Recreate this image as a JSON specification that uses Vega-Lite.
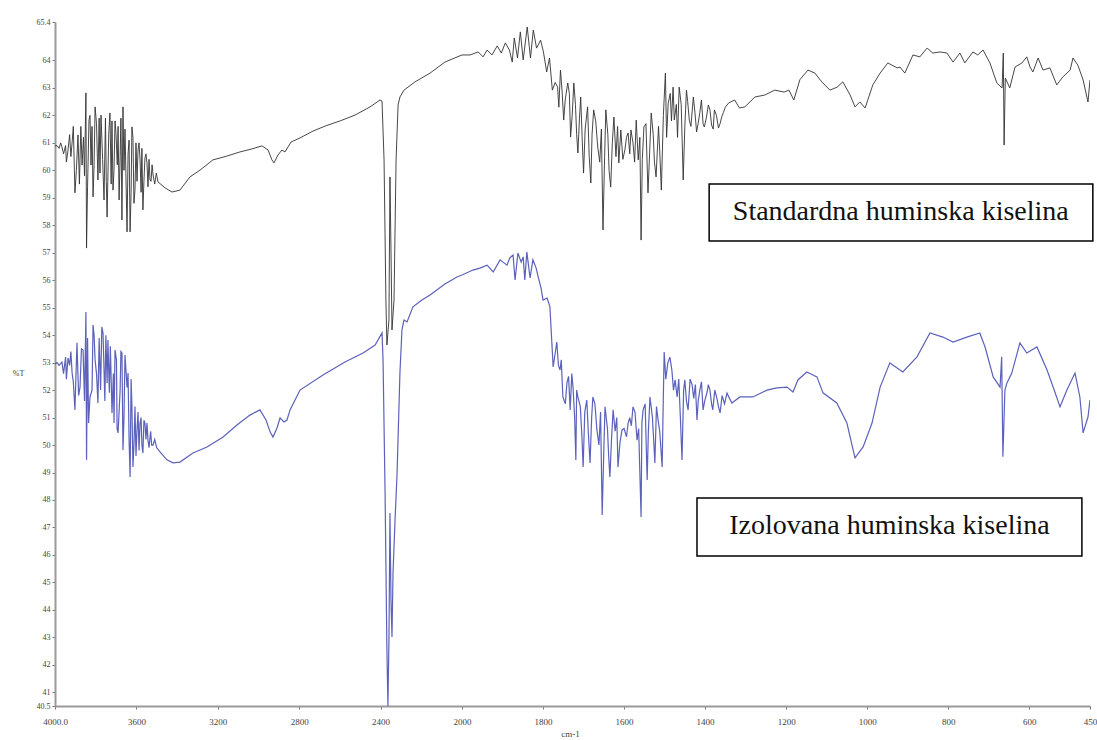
{
  "$schema": "https://vega.github.io/schema/vega-lite/v6.json",
  "width": 1035,
  "height": 684,
  "autosize": "none",
  "padding": {"left": 55, "top": 22, "right": 7, "bottom": 34},
  "background": "white",
  "config": {
    "view": {"stroke": null},
    "axisX": {
      "titleFont": "Liberation Serif, serif",
      "titleFontSize": 9,
      "titleFontWeight": "normal",
      "titleColor": "#444",
      "titleX": 515,
      "titleY": 23,
      "titleBaseline": "top",
      "labelFont": "Liberation Serif, serif",
      "labelFontSize": 9,
      "labelColor": "#444",
      "labelPadding": 8,
      "labelOverlap": false,
      "labelFlush": false,
      "grid": false,
      "domainColor": "#9a9a9a",
      "domainWidth": 2,
      "tickColor": "#777",
      "tickSize": 3,
      "tickWidth": 1
    },
    "axisY": {
      "titleFont": "Liberation Serif, serif",
      "titleFontSize": 8,
      "titleFontWeight": "normal",
      "titleColor": "#444",
      "titleAngle": 0,
      "titleX": -37,
      "titleY": 351,
      "titleAlign": "center",
      "titleBaseline": "middle",
      "labelFont": "Liberation Serif, serif",
      "labelFontSize": 8,
      "labelColor": "#444",
      "labelPadding": 2,
      "labelOverlap": false,
      "labelFlush": false,
      "grid": false,
      "domainColor": "#9a9a9a",
      "domainWidth": 2,
      "tickColor": "#777",
      "tickSize": 3,
      "tickWidth": 1
    }
  },
  "datasets": {
    "standardna": [
      {"wn": 4000, "t": 60.89}, {"wn": 3990, "t": 60.9}, {"wn": 3980, "t": 60.8}, {"wn": 3972, "t": 61.0},
      {"wn": 3966, "t": 60.85}, {"wn": 3958, "t": 60.6}, {"wn": 3948, "t": 60.9}, {"wn": 3944, "t": 60.3},
      {"wn": 3936, "t": 60.74}, {"wn": 3928, "t": 61.3}, {"wn": 3922, "t": 60.5}, {"wn": 3916, "t": 61.0},
      {"wn": 3910, "t": 61.6}, {"wn": 3902, "t": 59.18}, {"wn": 3895, "t": 60.0}, {"wn": 3887, "t": 61.29},
      {"wn": 3880, "t": 59.5}, {"wn": 3873, "t": 61.6}, {"wn": 3867, "t": 60.19}, {"wn": 3860, "t": 61.2},
      {"wn": 3855, "t": 59.8}, {"wn": 3848, "t": 62.82}, {"wn": 3845, "t": 57.17}, {"wn": 3840, "t": 59.4},
      {"wn": 3833, "t": 61.83}, {"wn": 3828, "t": 62.0}, {"wn": 3823, "t": 60.19}, {"wn": 3818, "t": 61.6},
      {"wn": 3813, "t": 59.03}, {"wn": 3808, "t": 60.2}, {"wn": 3803, "t": 62.31}, {"wn": 3796, "t": 61.7},
      {"wn": 3789, "t": 59.65}, {"wn": 3783, "t": 61.9}, {"wn": 3779, "t": 59.9}, {"wn": 3774, "t": 62.01},
      {"wn": 3766, "t": 60.4}, {"wn": 3759, "t": 58.92}, {"wn": 3752, "t": 61.9}, {"wn": 3748, "t": 59.6},
      {"wn": 3744, "t": 58.30}, {"wn": 3736, "t": 61.3}, {"wn": 3730, "t": 62.09}, {"wn": 3724, "t": 59.5},
      {"wn": 3720, "t": 61.8}, {"wn": 3715, "t": 59.28}, {"wn": 3710, "t": 60.0}, {"wn": 3705, "t": 61.8},
      {"wn": 3700, "t": 61.29}, {"wn": 3694, "t": 60.2}, {"wn": 3690, "t": 61.6}, {"wn": 3685, "t": 58.92},
      {"wn": 3680, "t": 60.5}, {"wn": 3676, "t": 61.9}, {"wn": 3671, "t": 58.19}, {"wn": 3666, "t": 62.31},
      {"wn": 3661, "t": 60.0}, {"wn": 3656, "t": 61.5}, {"wn": 3651, "t": 59.65}, {"wn": 3646, "t": 57.76},
      {"wn": 3641, "t": 60.6}, {"wn": 3636, "t": 61.10}, {"wn": 3631, "t": 57.76}, {"wn": 3626, "t": 59.2},
      {"wn": 3622, "t": 61.58}, {"wn": 3617, "t": 61.2}, {"wn": 3612, "t": 58.8}, {"wn": 3607, "t": 59.28},
      {"wn": 3602, "t": 61.0}, {"wn": 3597, "t": 59.6}, {"wn": 3592, "t": 60.74}, {"wn": 3587, "t": 61.0},
      {"wn": 3582, "t": 60.38}, {"wn": 3577, "t": 59.2}, {"wn": 3573, "t": 60.8}, {"wn": 3568, "t": 58.56},
      {"wn": 3563, "t": 59.6}, {"wn": 3558, "t": 60.45}, {"wn": 3553, "t": 60.6}, {"wn": 3548, "t": 60.27},
      {"wn": 3543, "t": 59.4}, {"wn": 3538, "t": 60.4}, {"wn": 3533, "t": 59.65}, {"wn": 3528, "t": 59.6},
      {"wn": 3523, "t": 60.2}, {"wn": 3518, "t": 59.83}, {"wn": 3510, "t": 59.5}, {"wn": 3502, "t": 59.9},
      {"wn": 3494, "t": 59.58}, {"wn": 3459, "t": 59.36}, {"wn": 3425, "t": 59.21}, {"wn": 3386, "t": 59.28},
      {"wn": 3337, "t": 59.76}, {"wn": 3287, "t": 60.01}, {"wn": 3224, "t": 60.38}, {"wn": 3155, "t": 60.52},
      {"wn": 3091, "t": 60.67}, {"wn": 3032, "t": 60.78}, {"wn": 2983, "t": 60.89}, {"wn": 2953, "t": 60.74},
      {"wn": 2934, "t": 60.38}, {"wn": 2924, "t": 60.27}, {"wn": 2904, "t": 60.56}, {"wn": 2885, "t": 60.74},
      {"wn": 2870, "t": 60.67}, {"wn": 2855, "t": 60.85}, {"wn": 2840, "t": 61.03}, {"wn": 2796, "t": 61.18},
      {"wn": 2732, "t": 61.43}, {"wn": 2673, "t": 61.61}, {"wn": 2599, "t": 61.80}, {"wn": 2526, "t": 62.01},
      {"wn": 2452, "t": 62.31}, {"wn": 2403, "t": 62.56}, {"wn": 2393, "t": 62.52}, {"wn": 2383, "t": 60.38},
      {"wn": 2374, "t": 55.28}, {"wn": 2369, "t": 53.64}, {"wn": 2359, "t": 54.55}, {"wn": 2354, "t": 59.76},
      {"wn": 2349, "t": 57.10}, {"wn": 2344, "t": 54.19}, {"wn": 2334, "t": 55.28}, {"wn": 2324, "t": 60.38},
      {"wn": 2314, "t": 62.38}, {"wn": 2305, "t": 62.67}, {"wn": 2285, "t": 62.92}, {"wn": 2231, "t": 63.22},
      {"wn": 2157, "t": 63.54}, {"wn": 2084, "t": 63.94}, {"wn": 2000, "t": 64.20}, {"wn": 1980, "t": 64.20},
      {"wn": 1960, "t": 64.31}, {"wn": 1948, "t": 64.13}, {"wn": 1938, "t": 64.38}, {"wn": 1926, "t": 64.20},
      {"wn": 1913, "t": 64.53}, {"wn": 1903, "t": 64.27}, {"wn": 1893, "t": 64.64}, {"wn": 1883, "t": 64.38},
      {"wn": 1876, "t": 63.94}, {"wn": 1871, "t": 64.82}, {"wn": 1863, "t": 64.09}, {"wn": 1856, "t": 65.04},
      {"wn": 1849, "t": 64.02}, {"wn": 1839, "t": 65.22}, {"wn": 1831, "t": 64.09}, {"wn": 1824, "t": 65.11},
      {"wn": 1816, "t": 64.45}, {"wn": 1806, "t": 64.74}, {"wn": 1799, "t": 64.31}, {"wn": 1791, "t": 63.58},
      {"wn": 1784, "t": 64.09}, {"wn": 1777, "t": 62.92}, {"wn": 1770, "t": 63.2}, {"wn": 1764, "t": 63.03},
      {"wn": 1761, "t": 62.3}, {"wn": 1757, "t": 63.65}, {"wn": 1753, "t": 62.9}, {"wn": 1749, "t": 61.83},
      {"wn": 1745, "t": 62.6}, {"wn": 1739, "t": 63.18}, {"wn": 1735, "t": 62.8}, {"wn": 1732, "t": 61.21},
      {"wn": 1728, "t": 62.0}, {"wn": 1724, "t": 63.18}, {"wn": 1720, "t": 62.4}, {"wn": 1717, "t": 61.3},
      {"wn": 1714, "t": 60.63}, {"wn": 1710, "t": 61.9}, {"wn": 1707, "t": 62.67}, {"wn": 1703, "t": 61.0},
      {"wn": 1700, "t": 59.90}, {"wn": 1696, "t": 61.5}, {"wn": 1690, "t": 62.31}, {"wn": 1686, "t": 60.5},
      {"wn": 1682, "t": 59.54}, {"wn": 1679, "t": 61.3}, {"wn": 1675, "t": 62.20}, {"wn": 1670, "t": 61.8},
      {"wn": 1665, "t": 60.85}, {"wn": 1660, "t": 60.3}, {"wn": 1656, "t": 61.5}, {"wn": 1652, "t": 57.83},
      {"wn": 1648, "t": 60.5}, {"wn": 1645, "t": 62.20}, {"wn": 1640, "t": 61.3}, {"wn": 1637, "t": 60.0},
      {"wn": 1633, "t": 59.39}, {"wn": 1629, "t": 61.0}, {"wn": 1625, "t": 61.94}, {"wn": 1620, "t": 60.5},
      {"wn": 1616, "t": 61.6}, {"wn": 1613, "t": 60.27}, {"wn": 1608, "t": 61.47}, {"wn": 1603, "t": 60.4},
      {"wn": 1598, "t": 60.74}, {"wn": 1594, "t": 61.2}, {"wn": 1590, "t": 61.36}, {"wn": 1586, "t": 60.6},
      {"wn": 1583, "t": 61.47}, {"wn": 1578, "t": 61.0}, {"wn": 1574, "t": 60.3}, {"wn": 1570, "t": 61.83},
      {"wn": 1565, "t": 60.38}, {"wn": 1561, "t": 61.2}, {"wn": 1558, "t": 57.46}, {"wn": 1555, "t": 60.4},
      {"wn": 1551, "t": 61.58}, {"wn": 1546, "t": 61.7}, {"wn": 1541, "t": 59.18}, {"wn": 1537, "t": 60.6},
      {"wn": 1533, "t": 62.09}, {"wn": 1528, "t": 61.3}, {"wn": 1525, "t": 60.3}, {"wn": 1521, "t": 59.76},
      {"wn": 1515, "t": 61.6}, {"wn": 1512, "t": 60.7}, {"wn": 1508, "t": 59.28}, {"wn": 1503, "t": 62.0},
      {"wn": 1498, "t": 63.54}, {"wn": 1495, "t": 61.2}, {"wn": 1491, "t": 62.45}, {"wn": 1486, "t": 62.8},
      {"wn": 1483, "t": 61.8}, {"wn": 1479, "t": 63.03}, {"wn": 1476, "t": 61.83}, {"wn": 1471, "t": 62.4},
      {"wn": 1468, "t": 61.2}, {"wn": 1464, "t": 63.03}, {"wn": 1459, "t": 62.4}, {"wn": 1454, "t": 59.65},
      {"wn": 1450, "t": 61.6}, {"wn": 1446, "t": 62.92}, {"wn": 1443, "t": 62.5}, {"wn": 1439, "t": 61.83},
      {"wn": 1435, "t": 61.6}, {"wn": 1429, "t": 62.67}, {"wn": 1425, "t": 62.1}, {"wn": 1421, "t": 61.4},
      {"wn": 1417, "t": 61.72}, {"wn": 1413, "t": 62.1}, {"wn": 1409, "t": 62.56}, {"wn": 1405, "t": 61.7},
      {"wn": 1402, "t": 61.58}, {"wn": 1397, "t": 61.9}, {"wn": 1392, "t": 62.38}, {"wn": 1388, "t": 62.2},
      {"wn": 1384, "t": 61.65}, {"wn": 1380, "t": 61.5}, {"wn": 1377, "t": 62.20}, {"wn": 1372, "t": 62.0},
      {"wn": 1367, "t": 61.54}, {"wn": 1363, "t": 61.7}, {"wn": 1359, "t": 61.94}, {"wn": 1355, "t": 62.1},
      {"wn": 1350, "t": 62.3}, {"wn": 1342, "t": 62.45}, {"wn": 1327, "t": 62.56}, {"wn": 1315, "t": 62.27},
      {"wn": 1302, "t": 62.31}, {"wn": 1277, "t": 62.67}, {"wn": 1253, "t": 62.74}, {"wn": 1228, "t": 62.92},
      {"wn": 1205, "t": 62.85}, {"wn": 1193, "t": 62.92}, {"wn": 1181, "t": 62.56}, {"wn": 1166, "t": 63.3},
      {"wn": 1146, "t": 63.65}, {"wn": 1129, "t": 63.54}, {"wn": 1112, "t": 63.22}, {"wn": 1092, "t": 62.92},
      {"wn": 1074, "t": 63.03}, {"wn": 1060, "t": 63.22}, {"wn": 1042, "t": 62.74}, {"wn": 1030, "t": 62.31},
      {"wn": 1018, "t": 62.49}, {"wn": 1005, "t": 62.27}, {"wn": 986, "t": 63.11}, {"wn": 968, "t": 63.54},
      {"wn": 949, "t": 63.91}, {"wn": 926, "t": 63.73}, {"wn": 919, "t": 63.76}, {"wn": 907, "t": 63.54},
      {"wn": 887, "t": 64.20}, {"wn": 870, "t": 64.13}, {"wn": 852, "t": 64.45}, {"wn": 838, "t": 64.27},
      {"wn": 820, "t": 64.31}, {"wn": 803, "t": 64.27}, {"wn": 788, "t": 63.94}, {"wn": 771, "t": 64.27},
      {"wn": 759, "t": 63.91}, {"wn": 739, "t": 64.31}, {"wn": 727, "t": 64.20}, {"wn": 714, "t": 64.38},
      {"wn": 697, "t": 63.91}, {"wn": 680, "t": 63.18}, {"wn": 667, "t": 63.0}, {"wn": 664, "t": 64.27},
      {"wn": 662, "t": 60.92}, {"wn": 659, "t": 63.36}, {"wn": 648, "t": 63.0}, {"wn": 635, "t": 63.76},
      {"wn": 618, "t": 63.91}, {"wn": 606, "t": 64.13}, {"wn": 598, "t": 63.76}, {"wn": 591, "t": 63.58},
      {"wn": 578, "t": 64.09}, {"wn": 566, "t": 63.65}, {"wn": 549, "t": 63.73}, {"wn": 532, "t": 63.11},
      {"wn": 517, "t": 63.40}, {"wn": 499, "t": 63.65}, {"wn": 492, "t": 64.09}, {"wn": 480, "t": 63.83},
      {"wn": 467, "t": 63.29}, {"wn": 455, "t": 62.49}, {"wn": 450, "t": 63.29}
    ],
    "izolovana": [
      {"wn": 4000, "t": 52.95}, {"wn": 3990, "t": 53.0}, {"wn": 3980, "t": 52.9}, {"wn": 3966, "t": 53.02},
      {"wn": 3958, "t": 52.6}, {"wn": 3948, "t": 53.2}, {"wn": 3944, "t": 52.4}, {"wn": 3936, "t": 53.17},
      {"wn": 3928, "t": 52.9}, {"wn": 3922, "t": 53.4}, {"wn": 3916, "t": 52.62}, {"wn": 3910, "t": 52.3},
      {"wn": 3902, "t": 51.28}, {"wn": 3895, "t": 53.0}, {"wn": 3892, "t": 53.72}, {"wn": 3884, "t": 51.8},
      {"wn": 3877, "t": 52.11}, {"wn": 3870, "t": 53.5}, {"wn": 3862, "t": 53.46}, {"wn": 3855, "t": 51.6},
      {"wn": 3848, "t": 54.84}, {"wn": 3845, "t": 49.46}, {"wn": 3840, "t": 53.9}, {"wn": 3835, "t": 50.8},
      {"wn": 3828, "t": 51.75}, {"wn": 3818, "t": 52.0}, {"wn": 3813, "t": 54.37}, {"wn": 3808, "t": 54.0},
      {"wn": 3803, "t": 53.10}, {"wn": 3796, "t": 52.6}, {"wn": 3789, "t": 51.53}, {"wn": 3783, "t": 53.9},
      {"wn": 3776, "t": 52.0}, {"wn": 3770, "t": 54.3}, {"wn": 3764, "t": 54.08}, {"wn": 3755, "t": 51.6},
      {"wn": 3750, "t": 54.0}, {"wn": 3744, "t": 52.26}, {"wn": 3740, "t": 53.82}, {"wn": 3733, "t": 51.9},
      {"wn": 3728, "t": 53.6}, {"wn": 3720, "t": 51.17}, {"wn": 3713, "t": 52.6}, {"wn": 3710, "t": 50.8},
      {"wn": 3705, "t": 53.46}, {"wn": 3698, "t": 53.1}, {"wn": 3695, "t": 50.6}, {"wn": 3690, "t": 50.44},
      {"wn": 3680, "t": 52.0}, {"wn": 3676, "t": 53.4}, {"wn": 3671, "t": 53.35}, {"wn": 3666, "t": 49.82},
      {"wn": 3661, "t": 51.0}, {"wn": 3656, "t": 53.28}, {"wn": 3646, "t": 52.1}, {"wn": 3641, "t": 52.62},
      {"wn": 3636, "t": 50.2}, {"wn": 3631, "t": 48.84}, {"wn": 3626, "t": 52.4}, {"wn": 3622, "t": 51.39},
      {"wn": 3617, "t": 49.20}, {"wn": 3612, "t": 50.0}, {"wn": 3607, "t": 51.4}, {"wn": 3602, "t": 49.6},
      {"wn": 3597, "t": 50.55}, {"wn": 3592, "t": 51.2}, {"wn": 3587, "t": 49.8}, {"wn": 3582, "t": 50.80},
      {"wn": 3577, "t": 51.0}, {"wn": 3573, "t": 50.0}, {"wn": 3568, "t": 49.71}, {"wn": 3563, "t": 50.9},
      {"wn": 3558, "t": 50.80}, {"wn": 3553, "t": 50.2}, {"wn": 3548, "t": 50.8}, {"wn": 3543, "t": 50.18},
      {"wn": 3538, "t": 49.9}, {"wn": 3530, "t": 50.5}, {"wn": 3525, "t": 50.0}, {"wn": 3518, "t": 50.00},
      {"wn": 3510, "t": 50.2}, {"wn": 3500, "t": 49.9}, {"wn": 3484, "t": 49.75}, {"wn": 3450, "t": 49.46},
      {"wn": 3420, "t": 49.35}, {"wn": 3386, "t": 49.38}, {"wn": 3322, "t": 49.71}, {"wn": 3253, "t": 49.93},
      {"wn": 3174, "t": 50.29}, {"wn": 3106, "t": 50.73}, {"wn": 3042, "t": 51.09}, {"wn": 2993, "t": 51.28},
      {"wn": 2963, "t": 50.91}, {"wn": 2943, "t": 50.48}, {"wn": 2929, "t": 50.29}, {"wn": 2909, "t": 50.62},
      {"wn": 2894, "t": 50.99}, {"wn": 2875, "t": 50.84}, {"wn": 2860, "t": 50.91}, {"wn": 2845, "t": 51.28},
      {"wn": 2796, "t": 52.00}, {"wn": 2683, "t": 52.55}, {"wn": 2575, "t": 53.02}, {"wn": 2486, "t": 53.35},
      {"wn": 2427, "t": 53.64}, {"wn": 2393, "t": 54.08}, {"wn": 2388, "t": 53.10}, {"wn": 2378, "t": 48.26},
      {"wn": 2369, "t": 42.54}, {"wn": 2364, "t": 40.5}, {"wn": 2359, "t": 42.90}, {"wn": 2354, "t": 47.53},
      {"wn": 2349, "t": 44.36}, {"wn": 2344, "t": 43.01}, {"wn": 2339, "t": 45.34}, {"wn": 2329, "t": 47.27},
      {"wn": 2319, "t": 48.98}, {"wn": 2305, "t": 52.62}, {"wn": 2295, "t": 54.19}, {"wn": 2285, "t": 54.55},
      {"wn": 2270, "t": 54.48}, {"wn": 2241, "t": 55.03}, {"wn": 2197, "t": 55.28}, {"wn": 2157, "t": 55.46},
      {"wn": 2084, "t": 55.86}, {"wn": 2025, "t": 56.12}, {"wn": 2000, "t": 56.19}, {"wn": 1973, "t": 56.37},
      {"wn": 1956, "t": 56.44}, {"wn": 1938, "t": 56.55}, {"wn": 1923, "t": 56.30}, {"wn": 1906, "t": 56.74},
      {"wn": 1889, "t": 56.55}, {"wn": 1882, "t": 56.81}, {"wn": 1874, "t": 56.92}, {"wn": 1869, "t": 56.01},
      {"wn": 1862, "t": 56.99}, {"wn": 1854, "t": 56.66}, {"wn": 1849, "t": 56.85}, {"wn": 1845, "t": 56.01},
      {"wn": 1840, "t": 57.03}, {"wn": 1832, "t": 56.08}, {"wn": 1825, "t": 56.74}, {"wn": 1817, "t": 56.44},
      {"wn": 1812, "t": 56.12}, {"wn": 1805, "t": 55.72}, {"wn": 1800, "t": 55.28}, {"wn": 1790, "t": 55.35},
      {"wn": 1783, "t": 55.03}, {"wn": 1775, "t": 52.84}, {"wn": 1766, "t": 53.75}, {"wn": 1762, "t": 52.9},
      {"wn": 1758, "t": 52.73}, {"wn": 1755, "t": 53.1}, {"wn": 1751, "t": 51.75}, {"wn": 1745, "t": 51.5},
      {"wn": 1741, "t": 52.26}, {"wn": 1737, "t": 52.5}, {"wn": 1733, "t": 51.28}, {"wn": 1729, "t": 52.6},
      {"wn": 1726, "t": 52.11}, {"wn": 1722, "t": 51.0}, {"wn": 1719, "t": 49.46}, {"wn": 1717, "t": 52.0},
      {"wn": 1714, "t": 51.75}, {"wn": 1708, "t": 51.4}, {"wn": 1704, "t": 50.3}, {"wn": 1701, "t": 49.20},
      {"wn": 1697, "t": 51.2}, {"wn": 1692, "t": 51.64}, {"wn": 1688, "t": 50.4}, {"wn": 1684, "t": 49.35},
      {"wn": 1680, "t": 51.0}, {"wn": 1677, "t": 51.75}, {"wn": 1672, "t": 51.5}, {"wn": 1667, "t": 50.55},
      {"wn": 1662, "t": 50.0}, {"wn": 1658, "t": 51.2}, {"wn": 1654, "t": 47.45}, {"wn": 1650, "t": 49.8},
      {"wn": 1647, "t": 51.39}, {"wn": 1641, "t": 50.6}, {"wn": 1638, "t": 49.6}, {"wn": 1635, "t": 48.84},
      {"wn": 1631, "t": 50.2}, {"wn": 1627, "t": 51.28}, {"wn": 1622, "t": 50.5}, {"wn": 1618, "t": 51.0},
      {"wn": 1615, "t": 49.20}, {"wn": 1610, "t": 50.1}, {"wn": 1605, "t": 50.55}, {"wn": 1600, "t": 50.6},
      {"wn": 1594, "t": 50.3}, {"wn": 1590, "t": 50.80}, {"wn": 1586, "t": 51.0}, {"wn": 1582, "t": 50.7},
      {"wn": 1578, "t": 51.39}, {"wn": 1573, "t": 51.2}, {"wn": 1568, "t": 50.18}, {"wn": 1564, "t": 50.6},
      {"wn": 1558, "t": 47.38}, {"wn": 1556, "t": 50.8}, {"wn": 1553, "t": 51.28}, {"wn": 1548, "t": 51.5},
      {"wn": 1543, "t": 48.73}, {"wn": 1540, "t": 50.5}, {"wn": 1536, "t": 51.75}, {"wn": 1530, "t": 51.0},
      {"wn": 1527, "t": 50.2}, {"wn": 1524, "t": 49.35}, {"wn": 1520, "t": 51.4}, {"wn": 1516, "t": 50.91},
      {"wn": 1512, "t": 50.5}, {"wn": 1506, "t": 49.20}, {"wn": 1504, "t": 51.0}, {"wn": 1501, "t": 53.39},
      {"wn": 1497, "t": 52.4}, {"wn": 1492, "t": 52.99}, {"wn": 1487, "t": 53.2}, {"wn": 1482, "t": 52.73},
      {"wn": 1478, "t": 52.0}, {"wn": 1474, "t": 52.37}, {"wn": 1469, "t": 51.75}, {"wn": 1465, "t": 52.4},
      {"wn": 1461, "t": 51.0}, {"wn": 1457, "t": 49.46}, {"wn": 1453, "t": 52.0}, {"wn": 1450, "t": 52.37},
      {"wn": 1446, "t": 51.6}, {"wn": 1442, "t": 51.28}, {"wn": 1437, "t": 52.4}, {"wn": 1432, "t": 52.19},
      {"wn": 1428, "t": 51.7}, {"wn": 1424, "t": 52.2}, {"wn": 1420, "t": 50.91}, {"wn": 1417, "t": 51.6},
      {"wn": 1413, "t": 52.00}, {"wn": 1409, "t": 52.3}, {"wn": 1405, "t": 51.28}, {"wn": 1401, "t": 51.6},
      {"wn": 1395, "t": 51.93}, {"wn": 1392, "t": 52.2}, {"wn": 1388, "t": 52.00}, {"wn": 1384, "t": 51.5},
      {"wn": 1381, "t": 51.28}, {"wn": 1376, "t": 52.0}, {"wn": 1371, "t": 51.71}, {"wn": 1367, "t": 51.4},
      {"wn": 1363, "t": 51.17}, {"wn": 1358, "t": 51.8}, {"wn": 1352, "t": 51.5}, {"wn": 1346, "t": 51.89},
      {"wn": 1334, "t": 51.53}, {"wn": 1314, "t": 51.75}, {"wn": 1297, "t": 51.75}, {"wn": 1282, "t": 51.75},
      {"wn": 1257, "t": 51.93}, {"wn": 1247, "t": 52.00}, {"wn": 1223, "t": 52.08}, {"wn": 1198, "t": 52.11},
      {"wn": 1183, "t": 51.93}, {"wn": 1171, "t": 52.37}, {"wn": 1149, "t": 52.66}, {"wn": 1134, "t": 52.55},
      {"wn": 1124, "t": 52.48}, {"wn": 1109, "t": 51.90}, {"wn": 1075, "t": 51.53}, {"wn": 1050, "t": 50.80},
      {"wn": 1030, "t": 49.53}, {"wn": 1010, "t": 49.93}, {"wn": 988, "t": 50.80}, {"wn": 968, "t": 52.11},
      {"wn": 944, "t": 52.99}, {"wn": 912, "t": 52.66}, {"wn": 877, "t": 53.21}, {"wn": 845, "t": 54.08},
      {"wn": 813, "t": 53.93}, {"wn": 788, "t": 53.75}, {"wn": 754, "t": 53.93}, {"wn": 722, "t": 54.08},
      {"wn": 709, "t": 53.57}, {"wn": 689, "t": 52.48}, {"wn": 672, "t": 52.11}, {"wn": 668, "t": 53.21},
      {"wn": 665, "t": 49.57}, {"wn": 660, "t": 52.0}, {"wn": 655, "t": 52.26}, {"wn": 643, "t": 52.62},
      {"wn": 623, "t": 53.72}, {"wn": 606, "t": 53.35}, {"wn": 581, "t": 53.57}, {"wn": 556, "t": 52.73},
      {"wn": 541, "t": 52.11}, {"wn": 524, "t": 51.39}, {"wn": 507, "t": 52.00}, {"wn": 487, "t": 52.62},
      {"wn": 475, "t": 51.75}, {"wn": 467, "t": 50.44}, {"wn": 455, "t": 51.02}, {"wn": 450, "t": 51.64}
    ]
  },
  "layer": [
    {
      "data": {"name": "standardna"},
      "mark": {"type": "line", "color": "#333333", "strokeWidth": 1, "opacity": 0.9, "clip": true},
      "encoding": {
        "x": {
          "field": "wn", "type": "quantitative",
          "scale": {"domain": [4000, 2000, 450], "range": [0, 407, 1035], "nice": false, "zero": false},
          "axis": {"title": "cm-1", "values": [4000, 3600, 3200, 2800, 2400, 2000, 1800, 1600, 1400, 1200, 1000, 800, 600, 450], "labelExpr": "datum.value == 4000 ? '4000.0' : datum.value"}
        },
        "y": {
          "field": "t", "type": "quantitative",
          "scale": {"domain": [40.5, 65.4], "nice": false, "zero": false},
          "axis": {"title": "%T", "values": [40.5, 41, 42, 43, 44, 45, 46, 47, 48, 49, 50, 51, 52, 53, 54, 55, 56, 57, 58, 59, 60, 61, 62, 63, 64, 65.4], "format": ".1~f"}
        }
      }
    },
    {
      "data": {"name": "izolovana"},
      "mark": {"type": "line", "color": "#4a50b4", "strokeWidth": 1.2, "opacity": 0.9, "clip": true},
      "encoding": {
        "x": {
          "field": "wn", "type": "quantitative",
          "axis": {"title": "cm-1", "values": [4000, 3600, 3200, 2800, 2400, 2000, 1800, 1600, 1400, 1200, 1000, 800, 600, 450], "labelExpr": "datum.value == 4000 ? '4000.0' : datum.value"}
        },
        "y": {
          "field": "t", "type": "quantitative",
          "axis": {"title": "%T", "values": [40.5, 41, 42, 43, 44, 45, 46, 47, 48, 49, 50, 51, 52, 53, 54, 55, 56, 57, 58, 59, 60, 61, 62, 63, 64, 65.4], "format": ".1~f"}
        }
      }
    },
    {
      "data": {"values": [{"label": "Standardna huminska kiselina"}]},
      "mark": {"type": "rect", "fill": "white", "stroke": "black", "strokeWidth": 1.5},
      "encoding": {
        "x": {"datum": 1390, "type": "quantitative", "axis": {"title": "cm-1", "values": [4000, 3600, 3200, 2800, 2400, 2000, 1800, 1600, 1400, 1200, 1000, 800, 600, 450], "labelExpr": "datum.value == 4000 ? '4000.0' : datum.value"}},
        "x2": {"datum": 443},
        "y": {"datum": 59.5, "type": "quantitative", "axis": {"title": "%T", "values": [40.5, 41, 42, 43, 44, 45, 46, 47, 48, 49, 50, 51, 52, 53, 54, 55, 56, 57, 58, 59, 60, 61, 62, 63, 64, 65.4], "format": ".1~f"}},
        "y2": {"datum": 57.43}
      }
    },
    {
      "data": {"values": [{"label": "Standardna huminska kiselina"}]},
      "mark": {"type": "text", "font": "Liberation Serif, serif", "fontSize": 28, "color": "#111", "align": "center", "baseline": "middle"},
      "encoding": {
        "x": {"datum": 917, "type": "quantitative", "axis": {"title": "cm-1", "values": [4000, 3600, 3200, 2800, 2400, 2000, 1800, 1600, 1400, 1200, 1000, 800, 600, 450], "labelExpr": "datum.value == 4000 ? '4000.0' : datum.value"}},
        "y": {"datum": 58.5, "type": "quantitative", "axis": {"title": "%T", "values": [40.5, 41, 42, 43, 44, 45, 46, 47, 48, 49, 50, 51, 52, 53, 54, 55, 56, 57, 58, 59, 60, 61, 62, 63, 64, 65.4], "format": ".1~f"}},
        "text": {"field": "label"}
      }
    },
    {
      "data": {"values": [{"label": "Izolovana huminska kiselina"}]},
      "mark": {"type": "rect", "fill": "white", "stroke": "black", "strokeWidth": 1.5},
      "encoding": {
        "x": {"datum": 1420, "type": "quantitative", "axis": {"title": "cm-1", "values": [4000, 3600, 3200, 2800, 2400, 2000, 1800, 1600, 1400, 1200, 1000, 800, 600, 450], "labelExpr": "datum.value == 4000 ? '4000.0' : datum.value"}},
        "x2": {"datum": 470},
        "y": {"datum": 48.07, "type": "quantitative", "axis": {"title": "%T", "values": [40.5, 41, 42, 43, 44, 45, 46, 47, 48, 49, 50, 51, 52, 53, 54, 55, 56, 57, 58, 59, 60, 61, 62, 63, 64, 65.4], "format": ".1~f"}},
        "y2": {"datum": 45.96}
      }
    },
    {
      "data": {"values": [{"label": "Izolovana huminska kiselina"}]},
      "mark": {"type": "text", "font": "Liberation Serif, serif", "fontSize": 28, "color": "#111", "align": "center", "baseline": "middle"},
      "encoding": {
        "x": {"datum": 945, "type": "quantitative", "axis": {"title": "cm-1", "values": [4000, 3600, 3200, 2800, 2400, 2000, 1800, 1600, 1400, 1200, 1000, 800, 600, 450], "labelExpr": "datum.value == 4000 ? '4000.0' : datum.value"}},
        "y": {"datum": 47.04, "type": "quantitative", "axis": {"title": "%T", "values": [40.5, 41, 42, 43, 44, 45, 46, 47, 48, 49, 50, 51, 52, 53, 54, 55, 56, 57, 58, 59, 60, 61, 62, 63, 64, 65.4], "format": ".1~f"}},
        "text": {"field": "label"}
      }
    }
  ]
}
